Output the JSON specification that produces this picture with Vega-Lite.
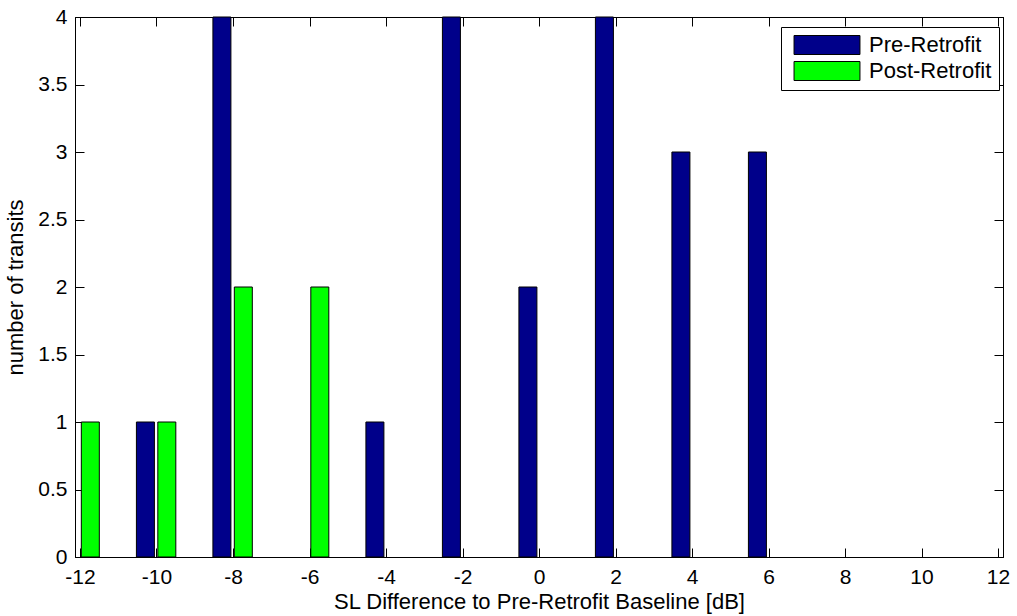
{
  "$schema": "https://vega.github.io/schema/vega-lite/v6.json",
  "width": 928,
  "height": 540,
  "autosize": {"type": "none"},
  "padding": {"left": 75, "top": 17, "right": 14, "bottom": 59},
  "background": "white",
  "config": {
    "view": {"stroke": "#000000", "strokeWidth": 1},
    "font": "Liberation Sans",
    "axis": {
      "labelFont": "Liberation Sans",
      "labelFontSize": 21,
      "labelColor": "#000000",
      "titleFont": "Liberation Sans",
      "titleFontSize": 22,
      "titleFontWeight": "normal",
      "titleColor": "#000000",
      "domainColor": "#000000",
      "tickColor": "#000000",
      "grid": false
    }
  },
  "data": {
    "values": [
      {"dB": -10.29, "series": "Pre-Retrofit", "count": 1},
      {"dB": -8.29, "series": "Pre-Retrofit", "count": 4},
      {"dB": -4.29, "series": "Pre-Retrofit", "count": 1},
      {"dB": -2.29, "series": "Pre-Retrofit", "count": 4},
      {"dB": -0.29, "series": "Pre-Retrofit", "count": 2},
      {"dB": 1.71, "series": "Pre-Retrofit", "count": 4},
      {"dB": 3.71, "series": "Pre-Retrofit", "count": 3},
      {"dB": 5.71, "series": "Pre-Retrofit", "count": 3},
      {"dB": -11.73, "series": "Post-Retrofit", "count": 1},
      {"dB": -9.73, "series": "Post-Retrofit", "count": 1},
      {"dB": -7.73, "series": "Post-Retrofit", "count": 2},
      {"dB": -5.73, "series": "Post-Retrofit", "count": 2}
    ]
  },
  "layer": [
    {
      "mark": {"type": "bar", "width": 18, "stroke": "#000000", "strokeWidth": 1, "opacity": 1},
      "encoding": {
        "x": {
          "field": "dB", "type": "quantitative",
          "scale": {"domain": [-12, 12], "nice": false, "zero": false},
          "axis": {"orient": "bottom", "values": [-12,-10,-8,-6,-4,-2,0,2,4,6,8,10,12], "labelExpr": "toString(datum.value)", "tickSize": -9, "labelPadding": 18, "title": "SL Difference to Pre-Retrofit Baseline [dB]", "titlePadding": 4, "labelFlush": false, "labelOverlap": false}
        },
        "y": {
          "field": "count", "type": "quantitative",
          "scale": {"domain": [0, 4], "nice": false},
          "axis": {"orient": "left", "values": [0,0.5,1,1.5,2,2.5,3,3.5,4], "labelExpr": "toString(datum.value)", "tickSize": -9, "labelPadding": 17, "title": "number of transits", "titlePadding": 10, "labelFlush": false, "labelOverlap": false}
        },
        "color": {
          "field": "series", "type": "nominal",
          "scale": {"domain": ["Pre-Retrofit", "Post-Retrofit"], "range": ["#00008a", "#00ff00"]},
          "legend": {
            "title": null,
            "orient": "none",
            "legendX": 706,
            "legendY": 10,
            "padding": 7,
            "strokeColor": "#000000",
            "fillColor": "#ffffff",
            "labelFont": "Liberation Sans",
            "labelFontSize": 22,
            "labelColor": "#000000",
            "symbolType": "M-3.47,-1H3.47V1H-3.47Z",
            "symbolSize": 361,
            "symbolStrokeColor": "#000000",
            "symbolStrokeWidth": 1,
            "symbolOpacity": 1,
            "symbolOffset": 28,
            "labelOffset": 31,
            "rowPadding": 2
          }
        }
      }
    },
    {
      "mark": {"type": "point", "opacity": 0},
      "encoding": {
        "x": {
          "field": "dB", "type": "quantitative",
          "axis": {"orient": "top", "values": [-12,-10,-8,-6,-4,-2,0,2,4,6,8,10,12], "tickSize": -9, "labels": false, "title": null}
        },
        "y": {
          "field": "count", "type": "quantitative",
          "axis": {"orient": "right", "values": [0,0.5,1,1.5,2,2.5,3,3.5,4], "tickSize": -9, "labels": false, "title": null}
        }
      }
    }
  ],
  "resolve": {"axis": {"x": "independent", "y": "independent"}}
}
